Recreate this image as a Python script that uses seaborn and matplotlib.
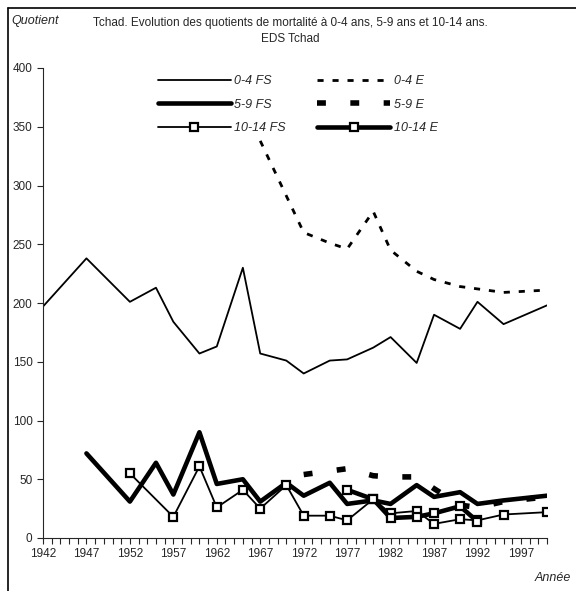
import seaborn as sns
import matplotlib.pyplot as plt
import matplotlib.lines as mlines
import pandas as pd

# quotients de mortalité (pour 1000)
years_04_fs = [1942, 1947, 1952, 1955, 1957, 1960, 1962, 1965, 1967, 1970, 1972,
               1975, 1977, 1980, 1982, 1985, 1987, 1990, 1992, 1995, 2000]
q04_fs = [197, 238, 201, 213, 184, 157, 163, 230, 157, 151, 140,
          151, 152, 162, 171, 149, 190, 178, 201, 182, 198]

years_04_e = [1967, 1972, 1975, 1977, 1980, 1982, 1985, 1987, 1990, 1992, 1995, 2000]
q04_e = [338, 260, 251, 246, 278, 245, 227, 220, 214, 212, 209, 211]

years_59_fs = [1947, 1952, 1955, 1957, 1960, 1962, 1965, 1967, 1970, 1972, 1975,
               1977, 1980, 1982, 1985, 1987, 1990, 1992, 1995, 2000]
q59_fs = [72, 31, 64, 37, 90, 46, 50, 31, 47, 36, 47,
          29, 32, 29, 45, 35, 39, 29, 32, 36]

years_59_e = [1972, 1975, 1977, 1980, 1982, 1985, 1987, 1990, 1992, 1995, 2000]
q59_e = [54, 57, 59, 53, 52, 52, 42, 28, 26, 31, 35]

years_1014_fs = [1952, 1957, 1960, 1962, 1965, 1967, 1970, 1972, 1975, 1977, 1980,
                 1982, 1985, 1987, 1990, 1992, 1995, 2000]
q1014_fs = [55, 18, 61, 26, 41, 25, 45, 19, 19, 15, 33,
            21, 23, 12, 16, 15, 20, 22]

years_1014_e = [1977, 1980, 1982, 1985, 1987, 1990, 1992]
q1014_e = [41, 33, 17, 18, 21, 27, 14]

series = [
    ("0-4 FS", years_04_fs, q04_fs, dict(lw=1.3, ls="-", marker=None)),
    ("0-4 E", years_04_e, q04_e, dict(lw=2.0, ls=(0, (2.2, 3.2)), marker=None)),
    ("5-9 FS", years_59_fs, q59_fs, dict(lw=3.3, ls="-", marker=None)),
    ("5-9 E", years_59_e, q59_e, dict(lw=4.0, ls=(0, (1.6, 4.4)), marker=None)),
    ("10-14 FS", years_1014_fs, q1014_fs, dict(lw=1.3, ls="-", marker="s")),
    ("10-14 E", years_1014_e, q1014_e, dict(lw=3.3, ls="-", marker="s")),
]

sns.set_style("ticks")
plt.rcParams['font.family'] = ['Liberation Sans', 'DejaVu Sans']

fig = plt.figure(figsize=(5.76, 5.91), dpi=100)
ax = fig.add_axes([43 / 576, 53 / 591, 504 / 576, 470 / 591])

handles = []
for name, xs, ys, st in series:
    df = pd.DataFrame({"annee": xs, "q": ys})
    kw = dict(color="black", linewidth=st["lw"], linestyle=st["ls"])
    if st["marker"]:
        kw.update(marker="s", markersize=6, markerfacecolor="white",
                  markeredgecolor="black", markeredgewidth=1.6)
    sns.lineplot(data=df, x="annee", y="q", ax=ax, estimator=None, sort=False, **kw)
    handles.append(mlines.Line2D([], [], label=name, **kw))

ax.set_xlim(1942, 2000)
ax.set_ylim(0, 400)
ax.set_yticks(range(0, 401, 50))
ax.set_xticks(range(1942, 2000, 5))
ax.set_xticks(range(1942, 2001), minor=True)
ax.tick_params(axis="both", which="major", labelsize=8.5, direction="out", length=4, width=0.8)
ax.tick_params(axis="x", which="minor", direction="out", length=4, width=0.8)
ax.tick_params(axis="x", pad=3)
ax.set_xlabel("")
ax.set_ylabel("")
sns.despine(ax=ax)
for s in ["left", "bottom"]:
    ax.spines[s].set_linewidth(0.8)

# légende : 2 colonnes, 3 lignes
order = [0, 2, 4, 1, 3, 5]
leg = ax.legend([handles[i] for i in order], [handles[i].get_label() for i in order],
                ncol=2, frameon=False, loc="upper left", bbox_to_anchor=(0.205, 1.008),
                handlelength=5.9, handletextpad=0.25, columnspacing=2.45,
                labelspacing=0.9, prop={"style": "italic", "size": 9})

fig.text(290 / 576, 1 - 31 / 591,
         "Tchad. Evolution des quotients de mortalité à 0-4 ans, 5-9 ans et 10-14 ans.\nEDS Tchad",
         ha="center", va="center", fontsize=8.5, linespacing=1.45)
fig.text(11 / 576, 1 - 21 / 591, "Quotient", style="italic", fontsize=9, ha="left", va="center")
fig.text(571 / 576, 1 - 578 / 591, "Année", style="italic", fontsize=9, ha="right", va="center")

# cadre de la figure
fig.add_artist(mlines.Line2D([8 / 576, 8 / 576], [0, 1 - 8 / 591], color="black", lw=1.2,
                             transform=fig.transFigure))
fig.add_artist(mlines.Line2D([8 / 576, 1], [1 - 8 / 591, 1 - 8 / 591], color="black", lw=1.2,
                             transform=fig.transFigure))

fig.savefig("out.png", dpi=100)
